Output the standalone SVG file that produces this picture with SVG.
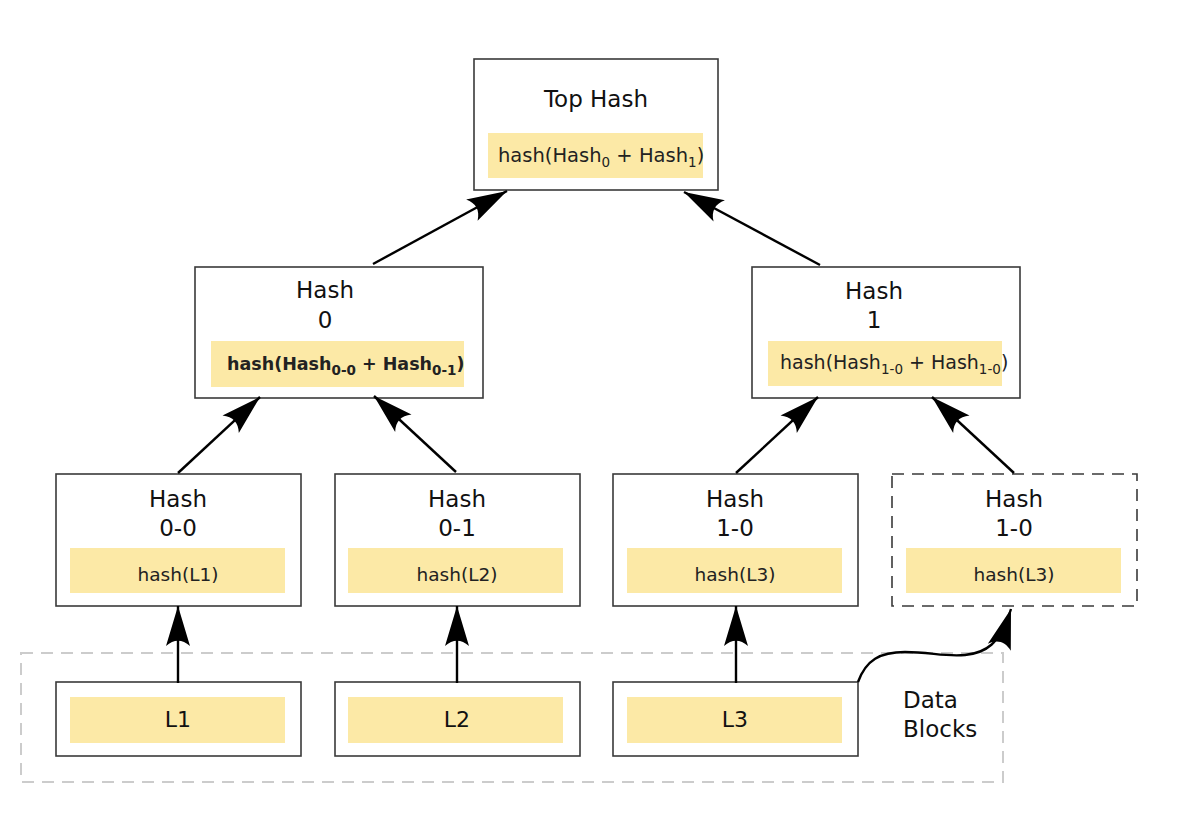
<svg xmlns="http://www.w3.org/2000/svg" width="1200" height="840" viewBox="0 0 1200 840">
<style>
.box{fill:#fff;stroke:#3a3a3a;stroke-width:1.6}
.dbox{fill:#fff;stroke:#3a3a3a;stroke-width:1.6;stroke-dasharray:12 8}
.yel{fill:#fce9a6}
.lbl{font-family:"DejaVu Sans",sans-serif;font-size:23px;fill:#111;text-anchor:middle}
.h{font-family:"DejaVu Sans",sans-serif;font-size:18.5px;fill:#222}
.hc{text-anchor:middle}
.b{font-weight:bold;font-size:17.5px}
.sub{font-size:13.5px}
.con{fill:none;stroke:#000;stroke-width:2.4;marker-end:url(#ah)}
</style>
<defs>
<marker id="ah" markerUnits="userSpaceOnUse" orient="auto" overflow="visible" markerWidth="1" markerHeight="1" refX="0" refY="0">
<path d="M0,0 L-40,-12 C-33,-4 -33,4 -40,12 Z" fill="#000"/>
</marker>
</defs>
<rect width="1200" height="840" fill="#fff"/>
<g id="data-blocks">
<rect x="21" y="653" width="982" height="129" fill="none" stroke="#cccccc" stroke-width="2" stroke-dasharray="12 8"/>
<text class="lbl" x="903" y="708" style="text-anchor:start">Data</text>
<text class="lbl" x="903" y="737" style="text-anchor:start">Blocks</text>
</g>
<g id="top-hash">
<rect class="box" x="474" y="59" width="244" height="131"/>
<text class="lbl" x="596" y="107">Top Hash</text>
<rect class="yel" x="488" y="133" width="215" height="45"/>
<text class="h" x="498" y="162" style="font-size:19.5px">hash(Hash<tspan class="sub" dy="5">0</tspan><tspan dy="-5"> + Hash</tspan><tspan class="sub" dy="5">1</tspan><tspan dy="-5">)</tspan></text>
</g>
<g id="hash-0">
<rect class="box" x="195" y="267" width="288" height="131"/>
<text class="lbl" x="325" y="298">Hash</text>
<text class="lbl" x="325" y="328">0</text>
<rect class="yel" x="211" y="341" width="253" height="46"/>
<text class="h b" x="227" y="370">hash(Hash<tspan class="sub" dy="5">0-0</tspan><tspan dy="-5"> + Hash</tspan><tspan class="sub" dy="5">0-1</tspan><tspan dy="-5">)</tspan></text>
</g>
<g id="hash-1">
<rect class="box" x="752" y="267" width="268" height="131"/>
<text class="lbl" x="874" y="299">Hash</text>
<text class="lbl" x="874" y="328">1</text>
<rect class="yel" x="768" y="341" width="234" height="45"/>
<text class="h" x="780" y="369" style="font-size:19px">hash(Hash<tspan class="sub" dy="5">1-0</tspan><tspan dy="-5"> + Hash</tspan><tspan class="sub" dy="5">1-0</tspan><tspan dy="-5">)</tspan></text>
</g>
<g id="hash-0-0">
<rect class="box" x="56" y="474" width="245" height="132"/>
<text class="lbl" x="178" y="507">Hash</text>
<text class="lbl" x="178" y="536">0-0</text>
<rect class="yel" x="70" y="548" width="215" height="45"/>
<text class="h hc" x="178" y="581">hash(L1)</text>
</g>
<g id="hash-0-1">
<rect class="box" x="335" y="474" width="245" height="132"/>
<text class="lbl" x="457" y="507">Hash</text>
<text class="lbl" x="457" y="536">0-1</text>
<rect class="yel" x="348" y="548" width="215" height="45"/>
<text class="h hc" x="457" y="581">hash(L2)</text>
</g>
<g id="hash-1-0">
<rect class="box" x="613" y="474" width="245" height="132"/>
<text class="lbl" x="735" y="507">Hash</text>
<text class="lbl" x="735" y="536">1-0</text>
<rect class="yel" x="627" y="548" width="215" height="45"/>
<text class="h hc" x="735" y="581">hash(L3)</text>
</g>
<g id="hash-1-0-dup">
<rect class="dbox" x="892" y="474" width="245" height="132"/>
<text class="lbl" x="1014" y="507">Hash</text>
<text class="lbl" x="1014" y="536">1-0</text>
<rect class="yel" x="906" y="548" width="215" height="45"/>
<text class="h hc" x="1014" y="581">hash(L3)</text>
</g>
<g id="l1">
<rect class="box" x="56" y="682" width="245" height="74"/>
<rect class="yel" x="70" y="697" width="215" height="46"/>
<text class="lbl" x="178" y="727" style="font-size:22px">L1</text>
</g>
<g id="l2">
<rect class="box" x="335" y="682" width="245" height="74"/>
<rect class="yel" x="348" y="697" width="215" height="46"/>
<text class="lbl" x="457" y="727" style="font-size:22px">L2</text>
</g>
<g id="l3">
<rect class="box" x="613" y="682" width="245" height="74"/>
<rect class="yel" x="627" y="697" width="215" height="46"/>
<text class="lbl" x="735" y="727" style="font-size:22px">L3</text>
</g>
<g id="connectors">
<line class="con" x1="373" y1="264" x2="507" y2="191"/>
<line class="con" x1="820" y1="265" x2="684" y2="192"/>
<line class="con" x1="178" y1="473" x2="260" y2="397"/>
<line class="con" x1="456" y1="472" x2="374" y2="396"/>
<line class="con" x1="736" y1="473" x2="818" y2="397"/>
<line class="con" x1="1014" y1="473" x2="932" y2="397"/>
<line class="con" x1="178" y1="683" x2="178" y2="606"/>
<line class="con" x1="457" y1="683" x2="457" y2="606"/>
<line class="con" x1="736" y1="683" x2="736" y2="606"/>
<path class="con" d="M858,682 C866,660 880,652 905,652 C930,652 945,657 965,655 C985,653 1000,645 1011,609"/>
</g>
</svg>
